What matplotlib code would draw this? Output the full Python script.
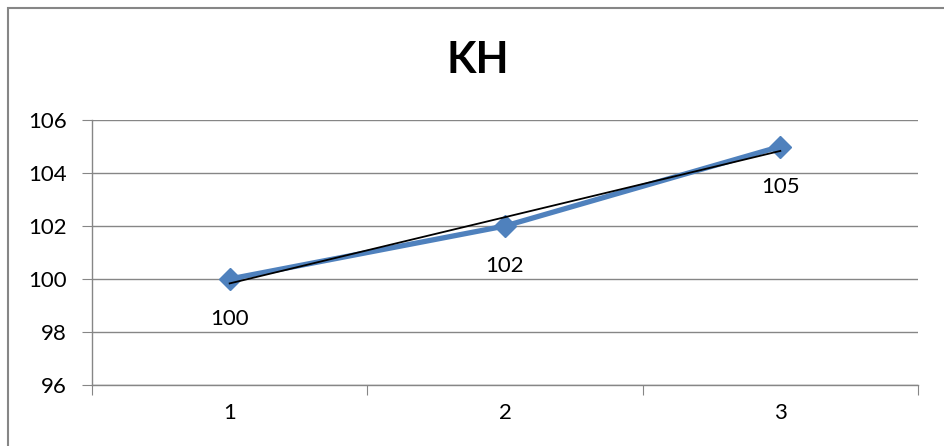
import numpy as np
import matplotlib
matplotlib.use("Agg")
import matplotlib.pyplot as plt
from matplotlib.patches import Rectangle

plt.rcParams['font.family'] = ['Lato', 'DejaVu Sans']

title = "KH"
categories = [1, 2, 3]
values = [100, 102, 105]
y_ticks = [96, 98, 100, 102, 104, 106]

fig = plt.figure(figsize=(9.45, 4.46), dpi=100)
ax = fig.add_axes([92/945, 1-385/446, (918-92)/945, (385-120)/446])

x = np.array(categories, dtype=float)
y = np.array(values, dtype=float)

ax.plot(x, y, color='#4F81BD', lw=3.8, marker='D', markersize=11,
        markerfacecolor='#4F81BD', markeredgecolor='#4F81BD', zorder=3,
        solid_capstyle='round')

# linear trend line
slope, intercept = np.polyfit(x, y, 1)
ax.plot(x, slope*x + intercept, color='black', lw=1.3, zorder=4)

for xi, yi in zip(x, y):
    ax.annotate(f"{yi:g}", (xi, yi), xytext=(0, -29), textcoords='offset points',
                ha='center', va='center', fontsize=16, color='black')

ax.set_xlim(0.5, 3.5)
ax.set_ylim(96, 106)
ax.set_yticks(y_ticks)
ax.set_yticklabels([str(t) for t in y_ticks], fontsize=16)
ax.set_xticks([0.5, 1.5, 2.5, 3.5])
ax.set_xticklabels([])
ax.set_xticks(categories, minor=True)
ax.set_xticklabels([str(c) for c in categories], minor=True, fontsize=16)
ax.tick_params(axis='x', which='minor', length=0, pad=13)
ax.tick_params(axis='x', which='major', length=7, color='#868686', direction='out')
ax.tick_params(axis='y', length=7, color='#868686', direction='out', pad=11)

ax.grid(axis='y', color='#868686', lw=1)
ax.set_axisbelow(True)
for s in ['top', 'right']:
    ax.spines[s].set_visible(False)
for s in ['left', 'bottom']:
    ax.spines[s].set_color('#868686')
    ax.spines[s].set_linewidth(1)

fig.text(478/945, 1-60/446, title, ha='center', va='center',
         fontsize=31, fontweight='bold')

fig.patches.append(Rectangle((8/945, -0.1), 1.2, 1-8/446+0.1,
                             transform=fig.transFigure, fill=False,
                             edgecolor='#868686', lw=1.5))

fig.savefig('out.png', dpi=100)
